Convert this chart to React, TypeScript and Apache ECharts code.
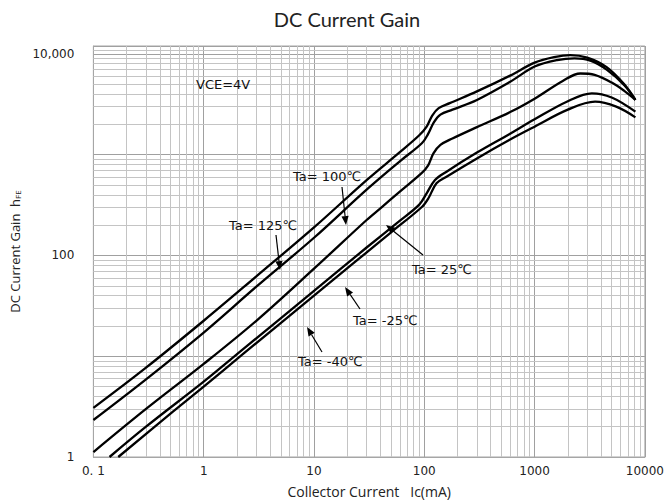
import React, { useEffect, useRef } from "react";
import * as echarts from "echarts";

// ---- data (Ic in mA, hFE) ----
const seriesNames = ["Ta= 125℃", "Ta= 100℃", "Ta= 25℃", "Ta= -25℃", "Ta= -40℃"];

const ta125: number[][] = [
  [0.1, 3.07], [0.3, 7.7], [1, 22.5], [3, 62], [10, 190], [30, 560], [60, 1060], [90, 1560],
  [105, 1900], [118, 2450], [135, 2900], [170, 3250], [300, 4250], [600, 6100], [1000, 8200],
  [1500, 9300], [2100, 9750], [3000, 9200], [4500, 7400], [6500, 5000], [8200, 3500],
];
const ta100: number[][] = [
  [0.1, 2.33], [0.3, 5.9], [1, 17.2], [3, 49], [10, 150], [30, 450], [60, 860], [95, 1300],
  [108, 1600], [122, 2100], [140, 2500], [180, 2800], [300, 3500], [600, 5300], [1000, 7500],
  [1600, 8700], [2300, 9050], [3200, 8600], [4500, 7000], [6500, 4900], [8200, 3500],
];
const ta25: number[][] = [
  [0.1, 1.12], [0.3, 3.0], [1, 8.4], [3, 22.5], [10, 74], [30, 225], [40, 294], [60, 430],
  [95, 660], [108, 780], [121, 1030], [140, 1250], [180, 1450], [300, 1880], [600, 2650],
  [1000, 3600], [1800, 5400], [2600, 6400], [3500, 6200], [5000, 5200], [6500, 4300], [8200, 3500],
];
const taM25: number[][] = [
  [0.14, 1.0], [0.3, 2.0], [1, 5.6], [2.22, 11.5], [10, 44.5], [30, 120], [58.6, 217], [90, 320],
  [105, 414], [125, 561], [159, 679], [300, 1050], [589, 1600], [1000, 2250], [2000, 3400],
  [3300, 4070], [5000, 3700], [8200, 2675],
];
const taM40: number[][] = [
  [0.168, 1.0], [0.5, 2.7], [1, 5.0], [2.22, 10.3], [10, 39.9], [50, 170], [95, 303], [109, 370],
  [129, 521], [159, 606], [300, 920], [589, 1400], [1000, 1900], [2000, 2800], [3530, 3360],
  [5500, 3000], [8200, 2350],
];
const curves = [ta125, ta100, ta25, taM25, taM40];

// ---- axis labels ----
const xTickValues = [0.1, 1, 10, 100, 1000, 10000];
const xTickLabels = ["0. 1", "1", "10", "100", "1000", "10000"];
const yTickValues = [1, 100, 10000];
const yTickLabels = ["1", "100", "10,000"];

// ---- annotations ----
const annoLabels = ["Ta= 100℃", "Ta= 125℃", "Ta= 25℃", "Ta= -25℃", "Ta= -40℃"];
const annoText = [
  [293, 176], [229, 225], [412, 269], [353, 320], [298, 361],
];
const annoArrow = [
  [342, 187, 346, 225], [276, 235, 280, 270], [423, 255, 386, 225], [360, 309, 345, 287], [322, 352, 307, 327],
];

function minorValues(lo: number, hi: number): number[] {
  const out: number[] = [];
  for (let d = lo; d < hi; d++) {
    for (let m = 2; m <= 9; m++) out.push(Number((m * Math.pow(10, d)).toPrecision(6)));
  }
  return out;
}

function arrow(x1: number, y1: number, x2: number, y2: number): any {
  const ang = Math.atan2(y2 - y1, x2 - x1);
  const len = 9, hw = 3.6;
  const bx = x2 - len * Math.cos(ang), by = y2 - len * Math.sin(ang);
  const px = -Math.sin(ang), py = Math.cos(ang);
  return {
    type: "group",
    z: 100,
    children: [
      { type: "line", z: 100, shape: { x1, y1, x2: bx, y2: by }, style: { stroke: "#000", lineWidth: 1.2 } },
      {
        type: "polygon",
        z: 100,
        shape: { points: [[x2, y2], [bx + px * hw, by + py * hw], [bx - px * hw, by - py * hw]] },
        style: { fill: "#000" },
      },
    ],
  };
}

const textFont = "'DejaVu Sans', 'Noto Sans CJK SC', sans-serif";

export default function App() {
  const ref = useRef<HTMLDivElement>(null);
  useEffect(() => {
    const chart = echarts.init(ref.current!, null, { renderer: "svg" });
    const xMinor = minorValues(-1, 4);
    const yMinor = [...minorValues(0, 4), 11000];
    const gridLineData = [
      ...xMinor.map((v) => ({ xAxis: v })),
      ...yMinor.map((v) => ({ yAxis: v })),
    ];
    const graphics: any[] = [
      {
        type: "text",
        z: 100,
        x: 196,
        y: 84,
        style: { text: "VCE=4V", font: `13px ${textFont}`, fill: "#111", textVerticalAlign: "middle" },
      },
    ];
    annoLabels.forEach((t, i) => {
      graphics.push({
        type: "text",
        z: 100,
        x: annoText[i][0],
        y: annoText[i][1],
        style: { text: t, font: `13px ${textFont}`, fill: "#111", textVerticalAlign: "middle" },
      });
      const a = annoArrow[i];
      graphics.push(arrow(a[0], a[1], a[2], a[3]));
    });

    const option: any = {
      animation: false,
      backgroundColor: "#fff",
      title: {
        text: "DC Current Gain",
        left: 342,
        textAlign: "center",
        top: 4,
        textStyle: { fontFamily: "Lato, sans-serif", fontSize: 20, fontWeight: "normal", color: "#222" },
      },
      grid: {
        left: 90,
        right: 20,
        top: 46,
        bottom: 46,
        show: true,
        borderColor: "#a6a6a6",
        borderWidth: 1,
        backgroundColor: "#fff",
      },
      xAxis: {
        type: "log",
        logBase: 10,
        min: 0.1,
        max: 10000,
        name: "Collector Current   Ic(mA)",
        nameLocation: "middle",
        nameGap: 27,
        nameTextStyle: { fontFamily: "'Open Sans', sans-serif", fontSize: 14, color: "#222" },
        axisLine: { show: true, lineStyle: { color: "#a6a6a6" } },
        axisTick: { show: false },
        splitLine: { show: true, lineStyle: { color: "#a0a0a0", width: 1 } },
        axisLabel: {
          fontFamily: textFont,
          fontSize: 12,
          color: "#222",
          margin: 8,
          showMinLabel: true,
          showMaxLabel: true,
          formatter: (v: number) => {
            const e = Math.round(Math.log10(v));
            const idx = xTickValues.findIndex((t) => Math.round(Math.log10(t)) === e);
            return idx >= 0 ? xTickLabels[idx] : "";
          },
        },
      },
      yAxis: {
        type: "log",
        logBase: 10,
        min: 1,
        max: 12000,
        name: "DC Current Gain  h{sub|FE}",
        nameLocation: "middle",
        nameRotate: 90,
        nameGap: 68,
        nameTextStyle: {
          fontFamily: "'Open Sans', sans-serif",
          fontSize: 13,
          color: "#222",
          rich: { sub: { fontSize: 8, fontFamily: "'Open Sans', sans-serif", color: "#222", padding: [6, 0, 0, 0] } },
        },
        axisLine: { show: true, lineStyle: { color: "#a6a6a6" } },
        axisTick: { show: false },
        splitLine: { show: true, lineStyle: { color: "#a0a0a0", width: 1 } },
        axisLabel: {
          fontFamily: textFont,
          fontSize: 12,
          color: "#222",
          margin: 19,
          formatter: (v: number) => {
            if (Math.abs(v - 12000) < 1) return "";
            const l = Math.log10(v);
            if (Math.abs(l - Math.round(l)) > 0.01) return "";
            const idx = yTickValues.findIndex((t) => Math.round(Math.log10(t)) === Math.round(l));
            return idx >= 0 ? yTickLabels[idx] : "";
          },
        },
      },
      series: [
        {
          type: "line",
          name: "grid",
          data: [[1, 1]],
          showSymbol: false,
          symbol: "none",
          lineStyle: { opacity: 0 },
          silent: true,
          z: 1,
          markLine: {
            silent: true,
            symbol: "none",
            label: { show: false },
            lineStyle: { color: "#c4c4c4", width: 1, type: "solid" },
            emphasis: { disabled: true },
            data: gridLineData,
          },
        },
        ...curves.map((d, i) => ({
          type: "line",
          name: seriesNames[i],
          data: d,
          showSymbol: false,
          symbol: "none",
          smooth: 0.35,
          z: 5,
          lineStyle: { color: "#000", width: 2.3 },
          clip: true,
        })),
      ],
      graphic: graphics,
    };
    chart.setOption(option);
    return () => chart.dispose();
  }, []);
  return (
    <div
      ref={ref}
      style={{ position: "fixed", left: 0, top: 0, width: 667, height: 503, background: "#fff" }}
    />
  );
}
